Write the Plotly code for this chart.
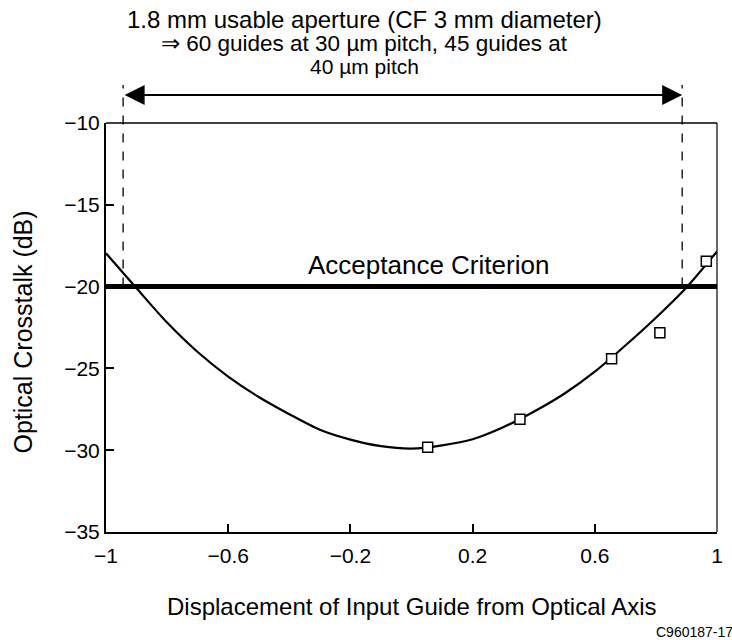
import plotly.graph_objects as go

# Fitted crosstalk curve (displacement, dB)
curve_x = [-1.0, -0.9, -0.8, -0.7, -0.6, -0.5, -0.4, -0.3, -0.2, -0.1, 0.0,
           0.1, 0.2, 0.3, 0.4, 0.5, 0.6, 0.7, 0.8, 0.9, 1.0]
curve_y = [-17.96, -20.10, -22.20, -24.00, -25.50, -26.75, -27.80, -28.75, -29.35,
           -29.75, -29.90, -29.70, -29.33, -28.60, -27.65, -26.55, -25.20, -23.60,
           -21.90, -20.05, -17.85]

# Measured points
meas_x = [0.053, 0.355, 0.655, 0.813, 0.965]
meas_y = [-29.82, -28.11, -24.41, -22.82, -18.45]

# Acceptance criterion and usable aperture limits
accept_db = -20.0
aperture_lo = -0.944
aperture_hi = 0.886

x_ticks = [-1, -0.6, -0.2, 0.2, 0.6, 1]
x_tick_text = ["\u22121", "\u22120.6", "\u22120.2", "0.2", "0.6", "1"]
y_ticks = [-35, -30, -25, -20, -15, -10]
y_tick_text = ["\u221235", "\u221230", "\u221225", "\u221220", "\u221215", "\u221210"]

X_RANGE = [-1, 1]
Y_RANGE = [-35, -10]

FONT = "Liberation Sans, Arial, Helvetica, sans-serif"

fig = go.Figure()

fig.add_trace(go.Scatter(
    x=curve_x, y=curve_y, mode="lines",
    line=dict(color="black", width=2.2, shape="spline", smoothing=0.8),
    showlegend=False, hoverinfo="skip",
))

fig.add_trace(go.Scatter(
    x=[X_RANGE[0], X_RANGE[1]], y=[accept_db, accept_db], mode="lines",
    line=dict(color="black", width=5),
    showlegend=False, hoverinfo="skip",
))

fig.add_trace(go.Scatter(
    x=meas_x, y=meas_y, mode="markers",
    marker=dict(symbol="square", size=10, color="white",
                line=dict(width=1.5, color="black")),
    showlegend=False,
))

accept_paper = (accept_db - Y_RANGE[0]) / (Y_RANGE[1] - Y_RANGE[0])

# dashed aperture limit lines
for xv in (aperture_lo, aperture_hi):
    fig.add_shape(type="line", xref="x", yref="paper", x0=xv, x1=xv,
                  y0=accept_paper, y1=1.093,
                  line=dict(color="black", width=1.3, dash="dash"))

# frame: thin top and right edges
fig.add_shape(type="line", xref="paper", yref="paper", x0=0, x1=1, y0=1, y1=1,
              line=dict(color="black", width=1.5))
fig.add_shape(type="line", xref="paper", yref="paper", x0=1, x1=1, y0=0, y1=1,
              line=dict(color="black", width=1.2))

# double-headed aperture arrow
fig.add_annotation(x=aperture_hi, y=1.0685, xref="x", yref="paper",
                   ax=aperture_lo, ay=0, axref="x", ayref="pixel",
                   text="", showarrow=True, arrowhead=2, arrowsize=2,
                   arrowwidth=2, arrowside="end+start", arrowcolor="black",
                   standoff=0, startstandoff=0)

fig.add_annotation(x=0.423, y=1.252, xref="paper", yref="paper",
                   text="1.8 mm usable aperture (CF 3 mm diameter)",
                   showarrow=False, font=dict(size=24, color="black", family=FONT),
                   xanchor="center", yanchor="middle")
fig.add_annotation(x=0.423, y=1.195, xref="paper", yref="paper",
                   text="\u21d2 60 guides at 30 \u00b5m pitch, 45 guides at",
                   showarrow=False, font=dict(size=22.5, color="black", family=FONT),
                   xanchor="center", yanchor="middle")
fig.add_annotation(x=0.423, y=1.137, xref="paper", yref="paper",
                   text="40 \u00b5m pitch",
                   showarrow=False, font=dict(size=21, color="black", family=FONT),
                   xanchor="center", yanchor="middle")

fig.add_annotation(x=0.055, y=accept_db, xref="x", yref="y",
                   text="Acceptance Criterion", showarrow=False,
                   font=dict(size=26, color="black", family=FONT),
                   xanchor="center", yanchor="bottom", yshift=5)

fig.add_annotation(x=-0.136, y=0.49, xref="paper", yref="paper",
                   text="Optical Crosstalk (dB)", textangle=-90, showarrow=False,
                   font=dict(size=25, color="black", family=FONT),
                   xanchor="center", yanchor="middle")
fig.add_annotation(x=0.5, y=-0.183, xref="paper", yref="paper",
                   text="Displacement of Input Guide from Optical Axis",
                   showarrow=False, font=dict(size=24, color="black", family=FONT),
                   xanchor="center", yanchor="middle")
fig.add_annotation(x=1.03, y=-0.245, xref="paper", yref="paper",
                   text="C960187-17", showarrow=False,
                   font=dict(size=14, color="black", family=FONT),
                   xanchor="right", yanchor="middle")

fig.update_layout(
    width=732, height=640,
    margin=dict(l=106, r=9, t=123, b=108),
    paper_bgcolor="white", plot_bgcolor="white",
    font=dict(family=FONT, color="black"),
    showlegend=False,
)
fig.update_xaxes(range=X_RANGE, tickvals=x_ticks, ticktext=x_tick_text,
                 ticks="inside", ticklen=8, tickwidth=1.5, tickcolor="black",
                 showline=True, linecolor="black", linewidth=2,
                 showgrid=False, zeroline=False, ticklabelstandoff=4,
                 tickfont=dict(size=21, family=FONT, color="black"))
fig.update_yaxes(range=Y_RANGE, tickvals=y_ticks, ticktext=y_tick_text,
                 ticks="inside", ticklen=8, tickwidth=1.5, tickcolor="black",
                 showline=True, linecolor="black", linewidth=2,
                 showgrid=False, zeroline=False,
                 tickfont=dict(size=21, family=FONT, color="black"))

fig.write_html("out.html")
